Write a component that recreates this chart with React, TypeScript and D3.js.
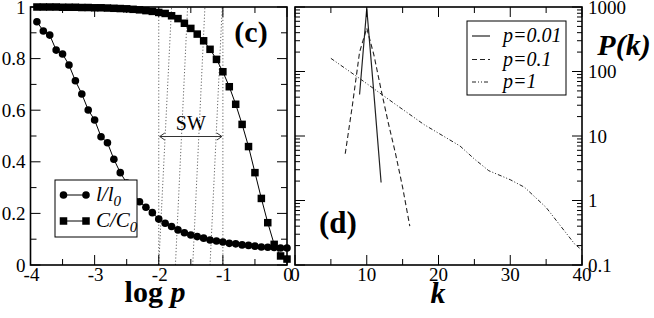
import React from 'react';
import * as d3 from 'd3';

// ---- panel (c): l/l0 and C/C0 versus log p ----
const logP = [
  -3.9, -3.8, -3.7, -3.6, -3.5, -3.4, -3.3, -3.2, -3.1, -3.0,
  -2.9, -2.8, -2.7, -2.6, -2.5, -2.4, -2.3, -2.2, -2.1, -2.0,
  -1.9, -1.8, -1.7, -1.6, -1.5, -1.4, -1.3, -1.2, -1.1, -1.0,
  -0.9, -0.8, -0.7, -0.6, -0.5, -0.4, -0.3, -0.2, -0.1, 0.0,
];
const pathRatio = [
  0.943, 0.907, 0.891, 0.833, 0.818, 0.775, 0.714, 0.663, 0.601, 0.562,
  0.497, 0.474, 0.410, 0.358, 0.318, 0.280, 0.245, 0.224, 0.203, 0.178,
  0.162, 0.149, 0.136, 0.125, 0.116, 0.110, 0.104, 0.097, 0.093, 0.089,
  0.084, 0.082, 0.078, 0.076, 0.073, 0.070, 0.069, 0.068, 0.066, 0.066,
];
const clusterRatio = [
  1.0, 1.0, 1.0, 1.0, 0.999, 0.999, 0.999, 0.998, 0.998, 0.997,
  0.997, 0.996, 0.995, 0.994, 0.993, 0.991, 0.989, 0.986, 0.983, 0.979,
  0.975, 0.966, 0.955, 0.937, 0.917, 0.895, 0.869, 0.836, 0.797, 0.749,
  0.691, 0.623, 0.545, 0.459, 0.358, 0.258, 0.164, 0.080, 0.035, 0.023,
];
const cXTicks = [-4, -3, -2, -1, 0];
const cYTicks = [0, 0.2, 0.4, 0.6, 0.8, 1];
const swRange = [-2, -1];
// hatch strokes inside the small-world band: [x at bottom, x at top]
const hatchLines = [[-2.0, -1.8], [-1.74, -1.55], [-1.47, -1.28], [-1.2, -1.01]];

// ---- panel (d): P(k) versus k ----
const kP001 = [9, 10, 11, 12];
const vP001 = [44, 950, 45, 1.9];
const kP01 = [7, 8, 9, 10, 11, 12, 13, 14, 15, 16];
const vP01 = [5.3, 30, 200, 470, 180, 52, 16, 5.4, 1.6, 0.4];
const kP1 = [5, 9, 14, 18, 23, 25, 27, 30, 32, 35, 39, 40];
const vP1 = [160, 78, 31, 15, 7.0, 4.4, 2.9, 2.1, 1.6, 0.78, 0.21, 0.17];
const dXTicks = [0, 10, 20, 30, 40];
const dYTicks = [0.1, 1, 10, 100, 1000];
const dYLabels = ['0.1', '1', '10', '100', '1000'];

const serif = 'Liberation Serif';
const TOP = 7;
const BOTTOM = 265;

export default function App() {
  const xc = d3.scaleLinear().domain([-4, 0]).range([30.5, 287]);
  const yc = d3.scaleLinear().domain([0, 1]).range([BOTTOM, TOP]);
  const xd = d3.scaleLinear().domain([0, 40]).range([295, 582]);
  const yd = d3.scaleLog().domain([0.1, 1000]).range([BOTTOM, TOP]);

  const lineC = d3.line<number>().x((_, i) => xc(logP[i])).y(d => yc(d));
  const lineD = (ks: number[]) => d3.line<number>().x((_, i) => xd(ks[i])).y(d => yd(d));

  const cXMinor = d3.range(-3.5, 0, 1);
  const cYMinor = d3.range(0.1, 1, 0.2);
  const dXMinor = [5, 15, 25, 35];
  const dYMinor: number[] = [];
  [0.1, 1, 10, 100].forEach(dec => {
    for (let m = 2; m <= 9; m++) dYMinor.push(dec * m);
  });

  const MAJ = 10;
  const MIN = 6;

  const sq = 7.5;
  const r = 3.8;
  const ts = { fontFamily: serif };

  return (
    <svg width={654} height={318} style={{ position: 'absolute', left: 0, top: 0, background: '#fff' }}>
      <rect x={0} y={0} width={654} height={318} fill="#fff" />

      {/* ===== panel (c) ===== */}
      {/* small-world band */}
      <g stroke="#666" strokeWidth={1} strokeDasharray="1.2,2" fill="none">
        {swRange.map(v => (
          <line key={'sw' + v} x1={xc(v)} x2={xc(v)} y1={TOP} y2={BOTTOM} />
        ))}
        {hatchLines.map(([b, t], i) => (
          <line key={'h' + i} x1={xc(b)} y1={BOTTOM} x2={xc(t)} y2={TOP} />
        ))}
      </g>
      {/* SW arrow */}
      <g stroke="#333" strokeWidth={1} fill="none">
        <line x1={xc(swRange[0]) + 1} x2={xc(swRange[1]) - 1} y1={136.5} y2={136.5} />
        <path d={`M${xc(swRange[0]) + 6},${133} L${xc(swRange[0]) + 1},${136.5} L${xc(swRange[0]) + 6},${140}`} />
        <path d={`M${xc(swRange[1]) - 6},${133} L${xc(swRange[1]) - 1},${136.5} L${xc(swRange[1]) - 6},${140}`} />
      </g>
      <text style={ts} x={(xc(swRange[0]) + xc(swRange[1])) / 2} y={130} fontSize={20} textAnchor="middle">SW</text>

      {/* curves */}
      <path d={lineC(pathRatio) || ''} fill="none" stroke="#000" strokeWidth={1} />
      <path d={lineC(clusterRatio) || ''} fill="none" stroke="#000" strokeWidth={1} />
      {pathRatio.map((v, i) => (
        <circle key={'c' + i} cx={xc(logP[i])} cy={yc(v)} r={r} fill="#000" />
      ))}
      {clusterRatio.map((v, i) => (
        <rect key={'s' + i} x={xc(logP[i]) - sq / 2} y={yc(v) - sq / 2} width={sq} height={sq} fill="#000" />
      ))}

      {/* frame + ticks */}
      <g stroke="#000" strokeWidth={1}>
        {cXTicks.map(v => (
          <g key={'cx' + v}>
            <line x1={xc(v)} x2={xc(v)} y1={BOTTOM} y2={BOTTOM - MAJ} />
            <line x1={xc(v)} x2={xc(v)} y1={TOP} y2={TOP + MAJ} />
          </g>
        ))}
        {cXMinor.map(v => (
          <g key={'cxm' + v}>
            <line x1={xc(v)} x2={xc(v)} y1={BOTTOM} y2={BOTTOM - MIN} />
            <line x1={xc(v)} x2={xc(v)} y1={TOP} y2={TOP + MIN} />
          </g>
        ))}
        {cYTicks.map(v => (
          <g key={'cy' + v}>
            <line x1={xc(-4)} x2={xc(-4) + MAJ} y1={yc(v)} y2={yc(v)} />
            <line x1={xc(0)} x2={xc(0) - MAJ} y1={yc(v)} y2={yc(v)} />
          </g>
        ))}
        {cYMinor.map(v => (
          <g key={'cym' + v}>
            <line x1={xc(-4)} x2={xc(-4) + MIN} y1={yc(v)} y2={yc(v)} />
            <line x1={xc(0)} x2={xc(0) - MIN} y1={yc(v)} y2={yc(v)} />
          </g>
        ))}
      </g>
      <rect x={xc(-4)} y={TOP} width={xc(0) - xc(-4)} height={BOTTOM - TOP} fill="none" stroke="#000" strokeWidth={1.6} />

      {cXTicks.map(v => (
        <text style={ts} key={'cxl' + v} x={xc(v) + 1} y={281} fontSize={19} textAnchor="middle">{v < 0 ? '-' + Math.abs(v) : String(v)}</text>
      ))}
      {cYTicks.map(v => (
        <text style={ts} key={'cyl' + v} x={xc(-4) - 5} y={yc(v) + 6.5} fontSize={19} textAnchor="end">{String(v)}</text>
      ))}
      <text style={ts} x={155} y={302} fontSize={30} fontWeight="bold" textAnchor="middle">
        log <tspan fontStyle="italic">p</tspan>
      </text>
      <text style={ts} x={251} y={42} fontSize={30} fontWeight="bold" textAnchor="middle">(c)</text>

      {/* legend (c) */}
      <rect x={55} y={180} width={82} height={57} fill="#fff" stroke="#000" strokeWidth={1} />
      <line x1={63.5} x2={86} y1={195} y2={195} stroke="#000" strokeWidth={1} />
      <circle cx={63.5} cy={195} r={r} fill="#000" />
      <circle cx={86} cy={195} r={r} fill="#000" />
      <text style={ts} x={96} y={201} fontSize={21} fontStyle="italic">l/l<tspan fontSize={15} dy={5}>0</tspan></text>
      <line x1={63.5} x2={86} y1={221} y2={221} stroke="#000" strokeWidth={1} />
      <rect x={63.5 - sq / 2} y={221 - sq / 2} width={sq} height={sq} fill="#000" />
      <rect x={86 - sq / 2} y={221 - sq / 2} width={sq} height={sq} fill="#000" />
      <text style={ts} x={96} y={227} fontSize={21} fontStyle="italic">C/C<tspan fontSize={15} dy={5}>0</tspan></text>

      {/* ===== panel (d) ===== */}
      <path d={lineD(kP001)(vP001) || ''} fill="none" stroke="#222" strokeWidth={1.2} />
      <path d={lineD(kP01)(vP01) || ''} fill="none" stroke="#222" strokeWidth={1.1} strokeDasharray="5,3" />
      <path d={lineD(kP1)(vP1) || ''} fill="none" stroke="#222" strokeWidth={1} strokeDasharray="4,2,1,2,1,2" />

      <g stroke="#000" strokeWidth={1}>
        {dXTicks.map(v => (
          <g key={'dx' + v}>
            <line x1={xd(v)} x2={xd(v)} y1={BOTTOM} y2={BOTTOM - MAJ} />
            <line x1={xd(v)} x2={xd(v)} y1={TOP} y2={TOP + MAJ} />
          </g>
        ))}
        {dXMinor.map(v => (
          <g key={'dxm' + v}>
            <line x1={xd(v)} x2={xd(v)} y1={BOTTOM} y2={BOTTOM - MIN} />
            <line x1={xd(v)} x2={xd(v)} y1={TOP} y2={TOP + MIN} />
          </g>
        ))}
        {dYTicks.map(v => (
          <g key={'dy' + v}>
            <line x1={xd(0)} x2={xd(0) + MAJ} y1={yd(v)} y2={yd(v)} />
            <line x1={xd(40)} x2={xd(40) - MAJ} y1={yd(v)} y2={yd(v)} />
          </g>
        ))}
        {dYMinor.map(v => (
          <g key={'dym' + v}>
            <line x1={xd(0)} x2={xd(0) + 5} y1={yd(v)} y2={yd(v)} />
            <line x1={xd(40)} x2={xd(40) - 5} y1={yd(v)} y2={yd(v)} />
          </g>
        ))}
      </g>
      <rect x={xd(0)} y={TOP} width={xd(40) - xd(0)} height={BOTTOM - TOP} fill="none" stroke="#000" strokeWidth={1.6} />

      {dXTicks.map(v => (
        <text style={ts} key={'dxl' + v} x={xd(v)} y={281} fontSize={19} textAnchor="middle">{String(v)}</text>
      ))}
      {dYTicks.map((v, i) => (
        <text style={ts} key={'dyl' + v} x={xd(40) + 6} y={yd(v) + 6.5} fontSize={19}>{dYLabels[i]}</text>
      ))}
      <text style={ts} x={438} y={303} fontSize={30} fontWeight="bold" fontStyle="italic" textAnchor="middle">k</text>
      <text style={ts} x={624} y={55} fontSize={30} fontWeight="bold" fontStyle="italic" textAnchor="middle">P(k)</text>
      <text style={ts} x={338} y={233} fontSize={31} fontWeight="bold" textAnchor="middle">(d)</text>

      {/* legend (d) */}
      <rect x={467} y={21} width={99} height={74} fill="#fff" stroke="#000" strokeWidth={1} />
      <line x1={472} x2={490} y1={36} y2={36} stroke="#222" strokeWidth={1.2} />
      <line x1={472} x2={490} y1={59.5} y2={59.5} stroke="#222" strokeWidth={1.1} strokeDasharray="5,3" />
      <line x1={472} x2={490} y1={82} y2={82} stroke="#222" strokeWidth={1} strokeDasharray="4,2,1,2,1,2" />
      <text style={ts} x={503} y={42} fontSize={20} fontStyle="italic">p=0.01</text>
      <text style={ts} x={503} y={65.5} fontSize={20} fontStyle="italic">p=0.1</text>
      <text style={ts} x={503} y={88} fontSize={20} fontStyle="italic">p=1</text>
    </svg>
  );
}
